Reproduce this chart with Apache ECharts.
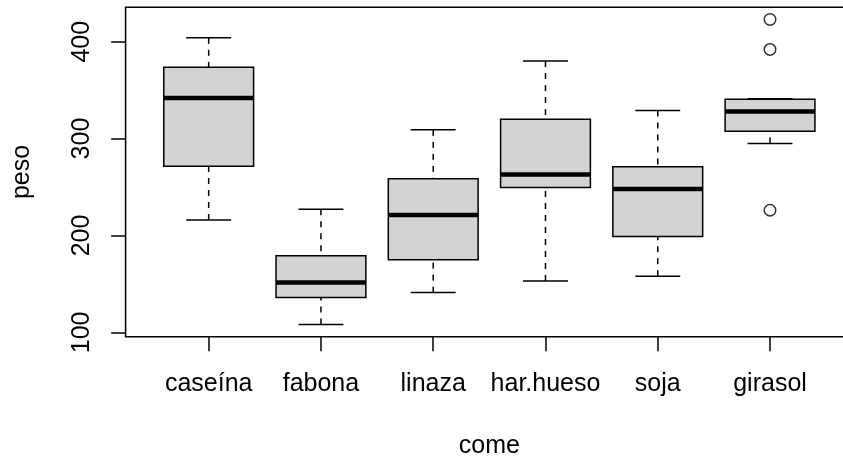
<!DOCTYPE html>
<html>
<head>
<meta charset="utf-8">
<script src="https://cdn.jsdelivr.net/npm/echarts@6/dist/echarts.min.js"></script>
<style>
html,body{margin:0;padding:0;background:#fff;}
#chart{width:843px;height:462px;}
</style>
</head>
<body>
<div id="chart"></div>
<script>
// ---- data (chickwts) ----
const categories  = ['caseína', 'fabona', 'linaza', 'har.hueso', 'soja', 'girasol'];
const whiskerLow  = [216, 108, 141, 153, 158, 295];
const hingeLow    = [271.5, 136, 175, 249.5, 199, 307.5];
const medians     = [342, 151.5, 221, 263, 248, 328];
const hingeHigh   = [373.5, 179, 258.5, 320, 271, 340.5];
const whiskerHigh = [404, 227, 309, 380, 329, 341];
const outlierGroup  = [6, 6, 6];          // 1-based position of group
const outlierValues = [226, 392, 423];
const yTicks = [100, 200, 300, 400];

const FONT = '"Liberation Sans", Arial, Helvetica, sans-serif';
const FS = 25;
const LW = 1.5;

const boxData = categories.map((c, i) => [i + 1, whiskerLow[i], hingeLow[i], medians[i], hingeHigh[i], whiskerHigh[i]]);
const outData = outlierValues.map((v, i) => [outlierGroup[i], v]);

function renderBox(params, api) {
  const x = api.value(0);
  const lo = api.coord([x, api.value(1)]);
  const q1 = api.coord([x, api.value(2)]);
  const md = api.coord([x, api.value(3)]);
  const q3 = api.coord([x, api.value(4)]);
  const hi = api.coord([x, api.value(5)]);
  const bw = api.size([0.8, 0])[0];
  const cw = api.size([0.4, 0])[0];
  const cx = lo[0];
  const dash = {stroke: '#000', lineWidth: LW, lineDash: [6, 6]};
  const solid = {stroke: '#000', lineWidth: LW};
  return {
    type: 'group',
    children: [
      {type: 'line', shape: {x1: cx, y1: lo[1], x2: cx, y2: q1[1]}, style: dash},
      {type: 'line', shape: {x1: cx, y1: hi[1], x2: cx, y2: q3[1]}, style: dash},
      {type: 'line', shape: {x1: cx - cw / 2, y1: lo[1], x2: cx + cw / 2, y2: lo[1]}, style: solid},
      {type: 'line', shape: {x1: cx - cw / 2, y1: hi[1], x2: cx + cw / 2, y2: hi[1]}, style: solid},
      {type: 'rect', shape: {x: cx - bw / 2, y: q3[1], width: bw, height: q1[1] - q3[1]},
       style: {fill: '#d3d3d3', stroke: '#000', lineWidth: LW}},
      {type: 'line', shape: {x1: cx - bw / 2, y1: md[1], x2: cx + bw / 2, y2: md[1]},
       style: {stroke: '#000', lineWidth: 4.5, lineCap: 'butt'}}
    ]
  };
}

const chart = echarts.init(document.getElementById('chart'), null, {renderer: 'canvas'});
chart.setOption({
  animation: false,
  backgroundColor: '#fff',
  grid: {left: 125.6, top: 7.2, width: 727.5, height: 329.6, show: true,
         containLabel: false, outerBoundsMode: 'none',
         borderColor: '#000', borderWidth: LW, backgroundColor: 'transparent'},
  xAxis: {
    type: 'value', min: 0.26, max: 6.74,
    name: 'come', nameLocation: 'middle', nameGap: 97,
    nameTextStyle: {fontFamily: FONT, fontSize: FS, color: '#000'},
    axisLine: {show: false},
    splitLine: {show: false},
    axisTick: {show: true, length: 14.4, customValues: [1, 2, 3, 4, 5, 6], lineStyle: {color: '#000', width: LW}},
    axisLabel: {show: true, customValues: [1, 2, 3, 4, 5, 6], margin: 35,
      fontFamily: FONT, fontSize: FS, color: '#000',
      formatter: v => categories[Math.round(v) - 1] || ''}
  },
  yAxis: {
    type: 'value', min: 95.4, max: 435.6,
    name: 'peso', nameLocation: 'middle', nameGap: 91,
    nameTextStyle: {fontFamily: FONT, fontSize: FS, color: '#000'},
    axisLine: {show: false},
    splitLine: {show: false},
    axisTick: {show: true, length: 14.4, customValues: yTicks, lineStyle: {color: '#000', width: LW}},
    axisLabel: {show: true, customValues: yTicks, rotate: 90, margin: 31,
      fontFamily: FONT, fontSize: FS, color: '#000'}
  },
  series: [
    {type: 'custom', renderItem: renderBox, data: boxData, clip: false,
     encode: {x: 0, y: [1, 2, 3, 4, 5]}},
    {type: 'scatter', data: outData, symbol: 'circle', symbolSize: 11.5,
     itemStyle: {color: 'transparent', borderColor: '#000', borderWidth: LW}, z: 5}
  ]
});
</script>
</body>
</html>
